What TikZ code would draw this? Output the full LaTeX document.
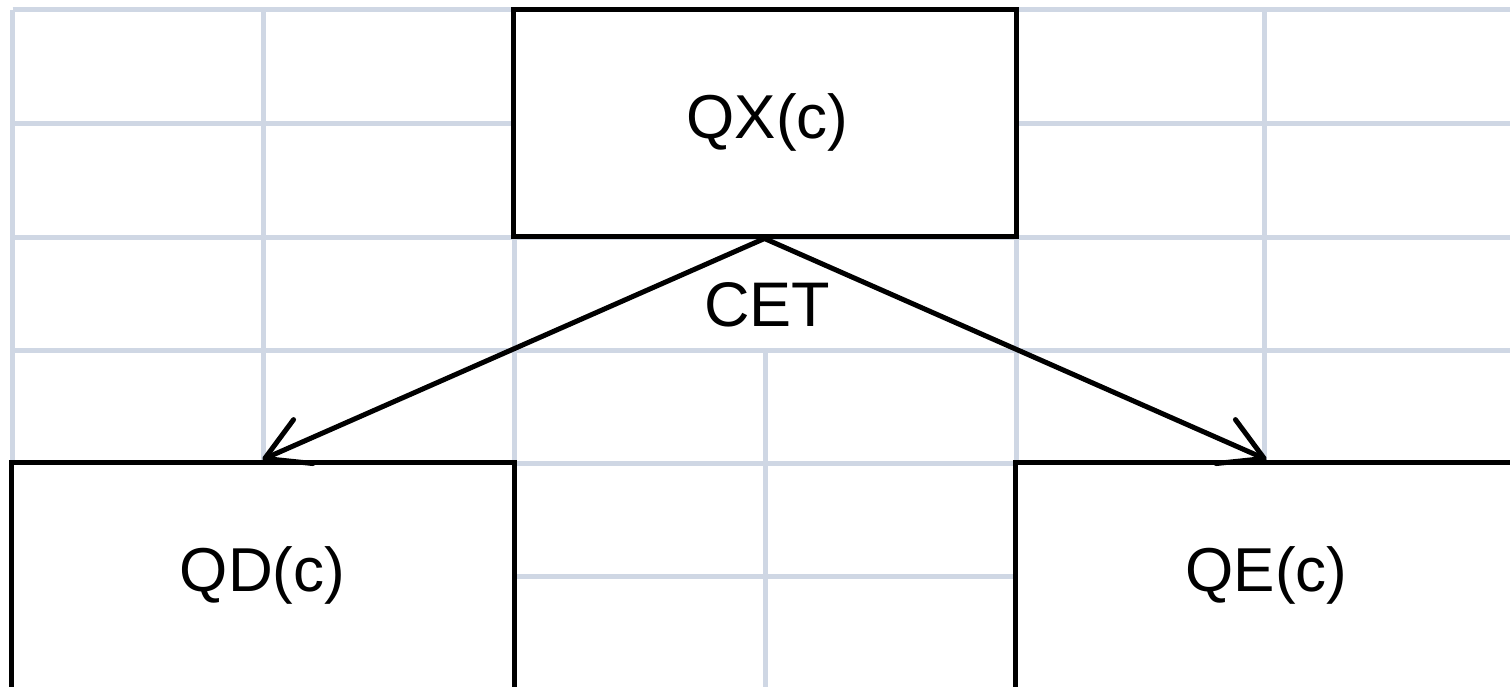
\documentclass[tikz,border=0pt]{standalone}
\usepackage{fontspec}
\setmainfont{Liberation Sans}
\usetikzlibrary{arrows.meta}
\definecolor{gridc}{RGB}{207,215,228}
\tikzset{
  gridline/.style={draw=gridc, line width=5pt},
  box/.style={draw=black, fill=white, line width=5pt, rectangle,
    minimum width=503pt, minimum height=227pt, inner sep=0pt,
    font=\fontsize{62}{74}\selectfont},
  lbl/.style={font=\fontsize{63}{75}\selectfont, inner sep=0pt},
  conn/.style={draw=black, line width=5pt,
    -{Straight Barb[length=42pt,width=48pt,round]}}
}
\begin{document}
\begin{tikzpicture}[x=1pt,y=-1pt]
\useasboundingbox (0,0) rectangle (1510,686);
\clip (0,0) rectangle (1510,686);
\fill[white] (0,0) rectangle (1510,686);
% grid
\foreach \yy in {9.5,123,237,350,463,576}
  \draw[gridline] (12.5,\yy) -- (1512,\yy);
\foreach \xx in {12.5,263,514,1016,1264}
  \draw[gridline] (\xx,9.5) -- (\xx,690);
\draw[gridline] (765,350) -- (765,690);
% boxes
\node[box] (qx) at (764.5,122.5) {\hspace{6pt}QX(c)};
\node[box] (qd) at (262.5,575.5) {QD(c)};
\node[box] (qe) at (1266.5,575.5) {QE(c)};
\node[lbl] (cet) at (767,305) {CET};
% connectors
\draw[conn] (qx.south) -- (qd.north);
\draw[conn] (qx.south) -- (qe.north);
\end{tikzpicture}
\end{document}
